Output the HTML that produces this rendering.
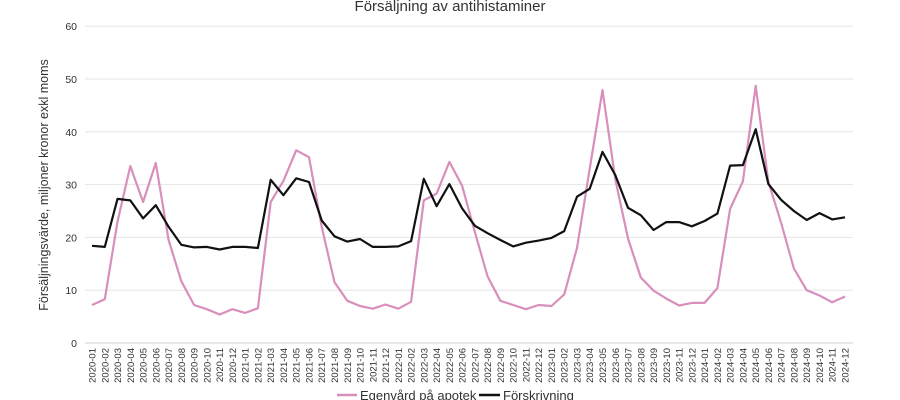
<!DOCTYPE html>
<html><head><meta charset="utf-8"><style>
html,body{margin:0;padding:0;background:#fff;}
svg{display:block;font-family:"Liberation Sans",sans-serif;}
</style></head><body>
<svg id="c" width="900" height="400" xmlns="http://www.w3.org/2000/svg">
<text x="450" y="11" font-size="15" text-anchor="middle" fill="#333">Försäljning av antihistaminer</text>
<text transform="translate(48,185) rotate(-90)" font-size="12.5" text-anchor="middle" fill="#333">Försäljningsvärde, miljoner kronor exkl moms</text>
<g id="g"></g>
<line x1="337" y1="395" x2="357" y2="395" stroke="#d98fbb" stroke-width="2.5"/>
<text x="360" y="400" font-size="13" fill="#333">Egenvård på apotek</text>
<line x1="479" y1="395" x2="500" y2="395" stroke="#111" stroke-width="2.5"/>
<text x="503" y="400" font-size="13" fill="#333">Förskrivning</text>
</svg>
<script>
var pink=[7.2,8.3,23,33.5,26.7,34.1,19.5,11.7,7.2,6.4,5.4,6.4,
5.7,6.6,26.7,30.7,36.5,35.2,22,11.5,8,7,6.5,7.3,
6.5,7.8,27,28.3,34.3,29.8,21,12.6,8,7.2,6.4,7.2,
7,9.2,18,33,47.9,31,19.8,12.4,9.9,8.4,7.1,7.6,
7.6,10.4,25.4,30.6,48.7,30.5,22.7,14.1,10,9,7.7,8.8];
var blk=[18.4,18.2,27.3,27,23.6,26.1,22,18.6,18.1,18.2,17.7,18.2,
18.2,18,30.9,28,31.2,30.5,23.2,20.2,19.2,19.7,18.2,18.2,
18.3,19.3,31.1,25.9,30.1,25.5,22.2,20.8,19.5,18.3,19,19.4,
19.9,21.2,27.7,29.2,36.2,31.8,25.6,24.2,21.4,22.9,22.9,22.1,
23.1,24.5,33.6,33.7,40.5,30.1,27.1,25,23.3,24.6,23.4,23.8];
var g=document.getElementById('g'),s='';
function Y(v){return 343-v*5.28;}
function X(i){return 92+i*(845-92)/59;}
for(var v=0;v<=60;v+=10){var y=Y(v);
s+='<line x1="85" x2="853" y1="'+y+'" y2="'+y+'" stroke="'+(v==0?'#d0d0d0':'#e6e6e6')+'" stroke-width="1"/>';
s+='<text x="77" y="'+(y+4)+'" font-size="10.5" text-anchor="end" fill="#333">'+v+'</text>';}
for(var i=0;i<60;i++){var yr=2020+Math.floor(i/12),m=i%12+1;
s+='<text transform="translate('+(X(i)+3.5)+',348) rotate(-90)" font-size="9.5" text-anchor="end" fill="#333">'+yr+'-'+(m<10?'0':'')+m+'</text>';}
function path(d,c){var p='';for(var i=0;i<d.length;i++)p+=(i?'L':'M')+X(i).toFixed(1)+','+Y(d[i]).toFixed(1);
return '<path d="'+p+'" fill="none" stroke="'+c+'" stroke-width="2.2" stroke-linejoin="round"/>';}
s+=path(pink,'#d98fbb')+path(blk,'#111');
g.innerHTML=s;
</script>
</body></html>
